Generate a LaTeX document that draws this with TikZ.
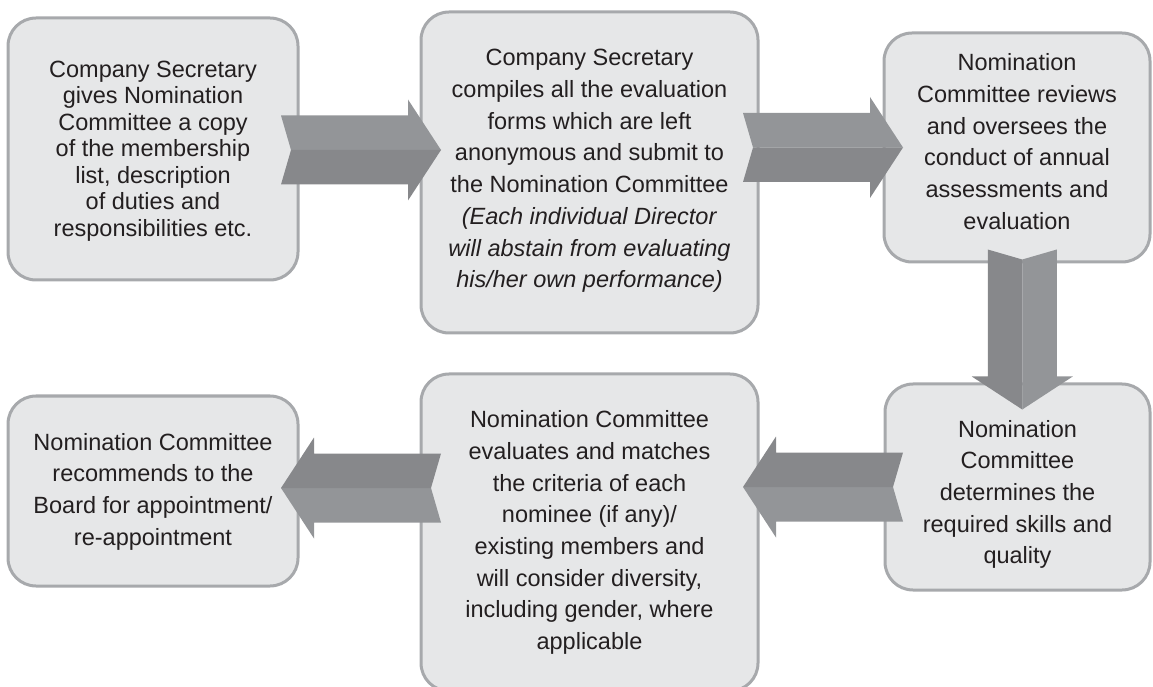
\documentclass[tikz,border=0pt]{standalone}
\usepackage{fontspec}
\setmainfont{Liberation Sans}
\usetikzlibrary{calc}

\definecolor{boxfill}{HTML}{E6E7E8}
\definecolor{boxline}{HTML}{A7A9AC}
\definecolor{arrowlight}{HTML}{939598}
\definecolor{arrowdark}{HTML}{87888B}
\definecolor{inktext}{HTML}{231F20}

\tikzset{
  stepbox/.style={draw=boxline, line width=3pt, fill=boxfill, rounded corners=28pt,
    inner sep=0pt, outer sep=0pt},
  steptext/.style={align=center, text=inktext, inner sep=0pt,
    font=\fontsize{23.5}{31.7}\selectfont},
  steptextTight/.style={steptext, font=\fontsize{23.5}{26.5}\selectfont},
  % two-tone notched block arrow, pointing along +x, centred on the origin
  blockarrow/.pic={
    \fill[arrowlight] (-80,34.5) -- (47,34.5) -- (47,50.5) -- (80,0) -- (-70,0) -- cycle;
    \fill[arrowdark] (-80,-34.5) -- (47,-34.5) -- (47,-50.5) -- (80,0) -- (-70,0) -- cycle;
  }
}

\begin{document}
\begin{tikzpicture}[x=1pt, y=1pt]
  \clip (0,0) rectangle (1153,686);

  % process boxes
  \node[stepbox, minimum width=290pt, minimum height=262pt] (b1) at (153,537) {};
  \node[stepbox, minimum width=337pt, minimum height=321pt] (b2) at (589.5,513.5) {};
  \node[stepbox, minimum width=266pt, minimum height=229pt] (b3) at (1017,538.5) {};
  \node[stepbox, minimum width=265pt, minimum height=206pt] (b4) at (1017.5,199) {};
  \node[stepbox, minimum width=337pt, minimum height=317pt] (b5) at (589.5,153.5) {};
  \node[stepbox, minimum width=290pt, minimum height=190pt] (b6) at (153,195) {};

  % box texts
  \node[steptextTight] (t1) at ($(b1.center)+(0,-2)$) {Company Secretary\\gives Nomination\\Committee a copy\\of the membership\\list, description\\of duties and\\responsibilities etc.};
  \node[steptext] (t2) at ($(b2.center)+(0,1.5)$) {Company Secretary\\compiles all the evaluation\\forms which are left\\anonymous and submit to\\the Nomination Committee\\\textit{(Each individual Director}\\\textit{will abstain from evaluating}\\\textit{his/her own performance)}};
  \node[steptext] (t3) at ($(b3.center)+(0,6)$) {Nomination\\Committee reviews\\and oversees the\\conduct of annual\\assessments and\\evaluation};
  \node[steptext] (t4) at ($(b4.center)+(0,-7.5)$) {Nomination\\Committee\\determines the\\required skills and\\quality};
  \node[steptext] (t5) at (b5.center) {Nomination Committee\\evaluates and matches\\the criteria of each\\nominee (if any)/\\existing members and\\will consider diversity,\\including gender, where\\applicable};
  \node[steptext] (t6) at ($(b6.center)+(0,-0.5)$) {Nomination Committee\\recommends to the\\Board for appointment/\\re-appointment};

  % block arrows between the boxes
  \pic at ($(b1.east)!0.5!(b2.west |- b1.east)+(1.5,-1)$) {blockarrow};
  \pic at ($(b2.east |- b3.west)!0.5!(b3.west)+(2,0)$) {blockarrow};
  \pic[rotate=-90] at ($(b3.south)!0.5!(b4.north)+(5,-6.5)$) {blockarrow};
  \pic[rotate=180] at ($(b4.west)!0.5!(b5.east |- b4.west)+(1.5,0)$) {blockarrow};
  \pic[rotate=180] at ($(b6.east)!0.5!(b5.west |- b6.east)+(1.5,3)$) {blockarrow};
\end{tikzpicture}
\end{document}
